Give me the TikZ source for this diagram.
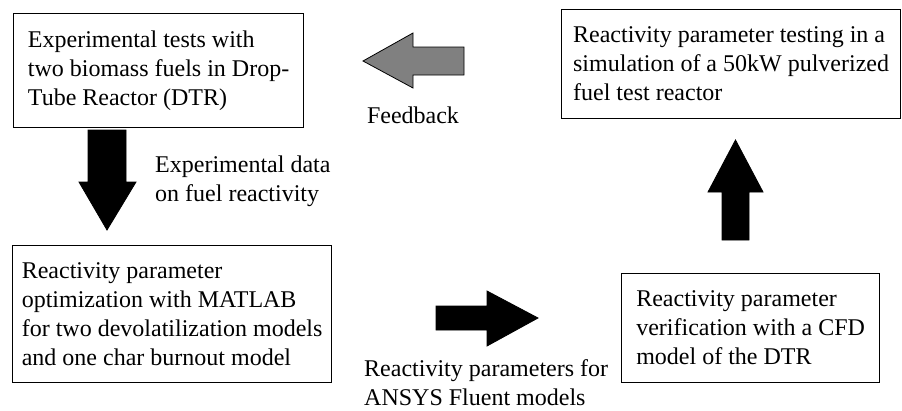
\documentclass[tikz,border=0pt]{standalone}
\usepackage{fontspec}
\setmainfont{Liberation Serif}

\begin{document}
\begin{tikzpicture}[x=1pt,y=-1pt,
  every node/.style={font=\fontsize{24}{29}\selectfont,align=left},
  box/.style={draw,line width=1.2pt,anchor=north west},
  lbl/.style={inner sep=0pt},
  blockarrow/.style={fill=black,draw=black,line width=0.8pt,line join=miter}]
  \useasboundingbox (0,0) rectangle (902,410);
  % boxes
  \node[box,minimum width=290pt,minimum height=114pt] (exp) at (13,13) {Experimental tests with\\two biomass fuels in Drop-\\Tube Reactor (DTR)};
  \node[box,minimum width=339pt,minimum height=109pt] (sim) at (561,9) {Reactivity parameter testing in a\\simulation of a 50kW pulverized\\fuel test reactor};
  \node[box,minimum width=319pt,minimum height=137pt] (opt) at (12,245) {Reactivity parameter\\optimization with MATLAB\\for two devolatilization models\\and one char burnout model};
  \node[box,minimum width=258pt,minimum height=109pt] (cfd) at (621,273) {Reactivity parameter\\verification with a CFD\\model of the DTR};
  % labels
  \node[lbl] (feed) at (413,115) {Feedback};
  \node[lbl,anchor=west] (expdata) at (155,181) {Experimental data\\on fuel reactivity};
  \node[lbl,anchor=west] (params) at (364,383) {Reactivity parameters for\\ANSYS Fluent models};
  % block arrows
  \draw[blockarrow,fill=gray] (363,61) -- (413,33) -- (413,47) -- (464,47) -- (464,75) -- (413,75) -- (413,88) -- cycle;
  \draw[blockarrow] (88,130) -- (126,130) -- (126,182) -- (136,182) -- (107,230) -- (79,182) -- (88,182) -- cycle;
  \draw[blockarrow] (436,306) -- (487,306) -- (487,291) -- (538,318) -- (487,346) -- (487,330) -- (436,330) -- cycle;
  \draw[blockarrow] (722,240) -- (722,192) -- (708,192) -- (735.5,140) -- (763,192) -- (749,192) -- (749,240) -- cycle;
\end{tikzpicture}
\end{document}
